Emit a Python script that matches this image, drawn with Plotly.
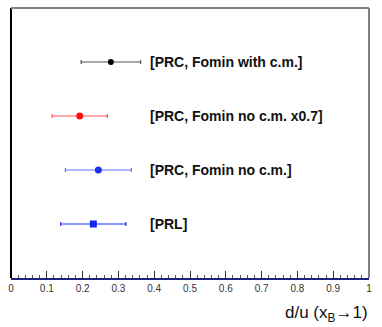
import plotly.graph_objects as go

labels = ["[PRC, Fomin with c.m.]", "[PRC, Fomin no c.m. x0.7]", "[PRC, Fomin no c.m.]", "[PRL]"]
values = [0.279, 0.192, 0.244, 0.230]
errors = [0.083, 0.077, 0.092, 0.091]
rows = [4, 3, 2, 1]
marker_colors = ["#000000", "#ff1010", "#2030f0", "#1028f0"]
bar_colors = ["#555555", "#ff5050", "#6070ff", "#1a30ff"]
symbols = ["circle", "circle", "circle", "square"]
marker_sizes = [6, 7, 7, 7]
tick_vals = [0, 0.1, 0.2, 0.3, 0.4, 0.5, 0.6, 0.7, 0.8, 0.9, 1.0]
tick_text = ["0", "0.1", "0.2", "0.3", "0.4", "0.5", "0.6", "0.7", "0.8", "0.9", "1"]

fig = go.Figure()
for lab, v, e, r, mc, bc, sym, ms in zip(labels, values, errors, rows, marker_colors, bar_colors, symbols, marker_sizes):
    fig.add_trace(go.Scatter(
        x=[v], y=[r], mode="markers",
        marker=dict(color=mc, size=ms, symbol=sym),
        error_x=dict(type="data", array=[e], color=bc, thickness=1.2, width=2),
        showlegend=False,
    ))
    fig.add_annotation(x=0.383, y=r, xref="x", yref="y", text="<b>" + lab + "</b>",
                       showarrow=False, xanchor="left", yanchor="middle",
                       font=dict(family="Liberation Sans, Arial", size=14, color="#111111"))

fig.add_annotation(x=1.003, y=-0.085, xref="paper", yref="paper", text="d/u (x<sub>B</sub>\u21921)",
                   showarrow=False, xanchor="right", yanchor="top",
                   font=dict(family="Liberation Sans, Arial", size=17, color="#111111"))

# frame
fig.add_shape(type="line", xref="paper", yref="paper", x0=0, x1=0, y0=0, y1=1,
              line=dict(color="#000000", width=2))
fig.add_shape(type="line", xref="paper", yref="paper", x0=0, x1=1, y0=1, y1=1,
              line=dict(color="#808080", width=2))
fig.add_shape(type="line", xref="paper", yref="paper", x0=1, x1=1, y0=0, y1=1,
              line=dict(color="#808080", width=2))

fig.update_xaxes(range=[0, 1], tickmode="array", tickvals=tick_vals, ticktext=tick_text,
                 showgrid=False, zeroline=False,
                 showline=True, linecolor="#1a237e", linewidth=2,
                 ticks="inside", ticklen=7, tickcolor="#333333", tickwidth=1,
                 minor=dict(ticks="inside", dtick=0.02, tick0=0, ticklen=3, tickcolor="#555555"),
                 tickfont=dict(family="Liberation Sans, Arial", size=10, color="#333333"))
fig.update_yaxes(range=[0, 5], visible=False, showgrid=False, zeroline=False)

fig.update_layout(width=382, height=327, margin=dict(l=9, r=13, t=8, b=49),
                  plot_bgcolor="white", paper_bgcolor="white")

fig.write_html("out.html", config={"displayModeBar": False},
               post_script="document.body.style.margin='0px';")
